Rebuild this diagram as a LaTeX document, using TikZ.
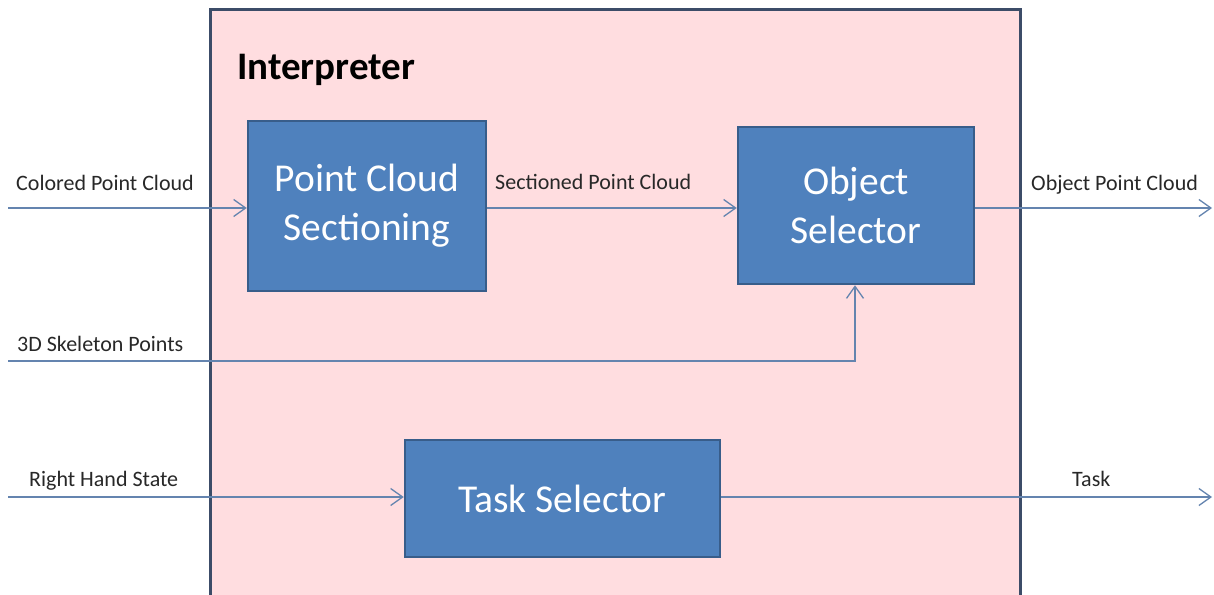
\documentclass[tikz,border=0pt]{standalone}
\usepackage{fontspec}
\setmainfont{Carlito}
\usetikzlibrary{arrows.meta}
\definecolor{pinkfill}{RGB}{255,221,224}
\definecolor{frame}{RGB}{60,76,104}
\definecolor{boxfill}{RGB}{79,129,189}
\definecolor{boxedge}{RGB}{56,93,138}
\definecolor{wire}{RGB}{100,132,175}
\definecolor{lbl}{RGB}{40,40,40}
\tikzset{
  procbox/.style={draw=boxedge, line width=2.5pt, fill=boxfill, text=white, align=center,
    inner sep=0pt, font=\fontsize{39.5}{49}\selectfont},
  wirearrow/.style={draw=wire, line width=1.3pt, -{Straight Barb[length=12pt,width=17pt,line width=1.3pt]}},
  lab/.style={text=lbl, font=\fontsize{22}{25}\selectfont, inner sep=0pt, anchor=base west}
}
\begin{document}
\begin{tikzpicture}[x=1pt,y=-1pt]
\useasboundingbox (0,0) rectangle (1214,594);
\fill[white] (0,0) rectangle (1214,594);
% interpreter frame
\fill[pinkfill] (210,10) rectangle (1020,600);
\draw[frame, line width=3pt] (210,600) -- (210,10) -- (1020,10) -- (1020,600);
\node[anchor=base west, inner sep=0pt, font=\fontsize{39}{42}\selectfont\bfseries, text=black] (title) at (237,79) {Interpreter};
% boxes
\node[procbox, minimum width=238pt, minimum height=170pt] (pcs) at (367,206) {Point Cloud\\Sectioning};
\node[procbox, minimum width=236pt, minimum height=157pt] (os) at (856,205.5) {Object\\Selector};
\node[procbox, minimum width=315pt, minimum height=117pt] (ts) at (562.5,498.5) {Task Selector};
% coordinates
\coordinate (in1) at (8,208);
\coordinate (in2) at (8,361);
\coordinate (in3) at (8,497);
\coordinate (out1) at (1212,208);
\coordinate (out3) at (1212,497);
\coordinate (bend) at (855,361);
% connectors
\draw[wirearrow] (in1) -- (pcs.west |- in1);
\draw[wirearrow] (pcs.east |- in1) -- (os.west |- in1);
\draw[wirearrow] (os.east |- in1) -- (out1);
\draw[wirearrow] (in2) -- (bend) -- (bend |- os.south);
\draw[wirearrow] (in3) -- (ts.west |- in3);
\draw[wirearrow] (ts.east |- in3) -- (out3);
% labels
\node[lab] (l1) at (16,190) {Colored Point Cloud};
\node[lab] (l2) at (495,189) {Sectioned Point Cloud};
\node[lab] (l3) at (1031,190) {Object Point Cloud};
\node[lab] (l4) at (17,351) {3D Skeleton Points};
\node[lab] (l5) at (29,486) {Right Hand State};
\node[lab] (l6) at (1072,486) {Task};
\end{tikzpicture}
\end{document}
